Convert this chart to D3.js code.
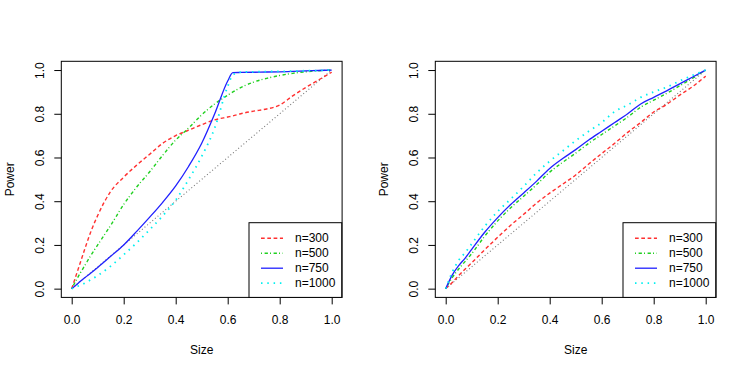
<!DOCTYPE html>
<html>
<head>
<meta charset="utf-8">
<script src="https://cdn.jsdelivr.net/npm/d3@7"></script>
<style>
  body { margin: 0; background: #fff; }
  text { font-family: "Liberation Sans", Arial, sans-serif; font-size: 12px; }
</style>
</head>
<body>
<div id="chart"></div>
<script>
// size grid (x) for each panel
var sizeLeft = [0, 0.025, 0.05, 0.075, 0.1, 0.15, 0.2, 0.25, 0.3, 0.35, 0.4, 0.45, 0.5, 0.55, 0.6, 0.62, 0.65, 0.7, 0.75, 0.8, 0.85, 0.9, 0.95, 1.0];
var sizeRight = [0, 0.025, 0.05, 0.075, 0.1, 0.15, 0.2, 0.25, 0.3, 0.35, 0.4, 0.45, 0.5, 0.55, 0.6, 0.65, 0.7, 0.75, 0.8, 0.85, 0.9, 0.95, 1.0];

// left panel power
var left300 = [0, 0.09, 0.18, 0.265, 0.335, 0.445, 0.51, 0.565, 0.615, 0.665, 0.70, 0.725, 0.75, 0.772, 0.785, 0.79, 0.80, 0.812, 0.822, 0.84, 0.882, 0.92, 0.955, 0.99];
var left500 = [0, 0.055, 0.105, 0.155, 0.2, 0.29, 0.385, 0.465, 0.535, 0.61, 0.68, 0.735, 0.795, 0.845, 0.885, 0.9, 0.92, 0.945, 0.962, 0.975, 0.985, 0.992, 0.997, 1.0];
var left750 = [0, 0.025, 0.05, 0.073, 0.097, 0.148, 0.2, 0.262, 0.327, 0.395, 0.47, 0.56, 0.665, 0.80, 0.95, 0.988, 0.989, 0.99, 0.991, 0.992, 0.994, 0.996, 0.998, 1.0];
var left1000 = [0, 0.012, 0.025, 0.042, 0.06, 0.103, 0.155, 0.21, 0.27, 0.333, 0.405, 0.50, 0.605, 0.735, 0.925, 0.978, 0.99, 0.992, 0.993, 0.994, 0.995, 0.997, 0.998, 1.0];

// right panel power
var right300 = [0, 0.028, 0.06, 0.09, 0.118, 0.178, 0.235, 0.29, 0.34, 0.392, 0.437, 0.478, 0.52, 0.57, 0.618, 0.665, 0.715, 0.76, 0.808, 0.843, 0.885, 0.925, 0.972];
var right500 = [0, 0.05, 0.09, 0.125, 0.16, 0.24, 0.31, 0.37, 0.423, 0.476, 0.533, 0.578, 0.62, 0.665, 0.705, 0.745, 0.785, 0.83, 0.862, 0.893, 0.928, 0.963, 1.0];
var right750 = [0, 0.062, 0.105, 0.14, 0.18, 0.258, 0.325, 0.385, 0.438, 0.492, 0.55, 0.595, 0.636, 0.68, 0.72, 0.76, 0.80, 0.845, 0.875, 0.905, 0.937, 0.968, 1.0];
var right1000 = [0, 0.075, 0.13, 0.165, 0.205, 0.285, 0.353, 0.41, 0.468, 0.53, 0.583, 0.63, 0.677, 0.72, 0.76, 0.81, 0.84, 0.875, 0.9, 0.922, 0.95, 0.976, 1.0];

var labels = ["n=300", "n=500", "n=750", "n=1000"];
var colors = ["#ff3030", "#20d020", "#2020ff", "#00f0f0"];
var dashes = ["3.7,2.6", "1,2.6,3.3,2.1", null, "1.5,4.8"];
var widths = [1.4, 1.4, 1.3, 1.8];
var ticks = [0, 0.2, 0.4, 0.6, 0.8, 1.0];

var svg = d3.select("#chart").append("svg")
    .attr("width", 747)
    .attr("height", 374);

function drawPanel(offset, sizes, series) {
    var g = svg.append("g").attr("transform", `translate(${offset}, 0)`);

    var x = d3.scaleLinear().domain([-0.04, 1.04]).range([61.3, 342.1]);
    var y = d3.scaleLinear().domain([-0.04, 1.04]).range([297.4, 61.3]);

    // reference diagonal
    g.append("line")
        .attr("x1", x(0)).attr("y1", y(0))
        .attr("x2", x(1)).attr("y2", y(1))
        .attr("stroke", "#777")
        .attr("stroke-width", 1.1)
        .attr("stroke-dasharray", "1,2.4");

    var line = d3.line()
        .curve(d3.curveMonotoneX)
        .x(d => x(d[0]))
        .y(d => y(d[1]));

    series.forEach(function(vals, i) {
        g.append("path")
            .datum(sizes.map((s, j) => [s, vals[j]]))
            .attr("d", line)
            .attr("fill", "none")
            .attr("stroke", colors[i])
            .attr("stroke-width", widths[i])
            .attr("stroke-dasharray", dashes[i]);
    });

    // box
    g.append("rect")
        .attr("x", 61.3).attr("y", 61.3)
        .attr("width", 280.8).attr("height", 236.1)
        .attr("fill", "none")
        .attr("stroke", "#000");

    // x axis
    var xAxis = g.append("g")
        .attr("transform", "translate(0, 297.4)")
        .call(d3.axisBottom(x).tickValues(ticks).tickFormat(d3.format(".1f")).tickSize(7).tickSizeOuter(0));
    xAxis.select(".domain").remove();
    xAxis.selectAll("text").attr("y", 27).attr("dy", 0).attr("fill", "#000")
        .style("font-size", "12px").style("font-family", "Liberation Sans, Arial, sans-serif");

    // y axis
    var yAxis = g.append("g")
        .attr("transform", "translate(61.3, 0)")
        .call(d3.axisLeft(y).tickValues(ticks).tickFormat(d3.format(".1f")).tickSize(7).tickSizeOuter(0));
    yAxis.select(".domain").remove();
    yAxis.selectAll("text")
        .attr("x", 0).attr("y", 0).attr("dy", 0)
        .attr("transform", "translate(-17, 0) rotate(-90)")
        .attr("text-anchor", "middle")
        .attr("fill", "#000")
        .style("font-size", "12px").style("font-family", "Liberation Sans, Arial, sans-serif");

    // axis titles
    g.append("text")
        .attr("x", (x(0) + x(1)) / 2)
        .attr("y", 354)
        .attr("text-anchor", "middle")
        .text("Size");

    g.append("text")
        .attr("transform", `translate(14, ${(y(0) + y(1)) / 2}) rotate(-90)`)
        .attr("text-anchor", "middle")
        .text("Power");

    // legend
    var lg = g.append("g").attr("transform", "translate(249, 222.7)");
    lg.append("rect")
        .attr("width", 92.7).attr("height", 74.7)
        .attr("fill", "#fff")
        .attr("stroke", "#000");

    labels.forEach(function(lab, i) {
        var ly = 15.5 + i * 15;
        lg.append("line")
            .attr("x1", 12).attr("x2", 34)
            .attr("y1", ly).attr("y2", ly)
            .attr("stroke", colors[i])
            .attr("stroke-width", widths[i])
            .attr("stroke-dasharray", dashes[i]);
        lg.append("text")
            .attr("x", 46).attr("y", ly + 4.3)
            .text(lab);
    });
}

drawPanel(0, sizeLeft, [left300, left500, left750, left1000]);
drawPanel(374, sizeRight, [right300, right500, right750, right1000]);
</script>
</body>
</html>
